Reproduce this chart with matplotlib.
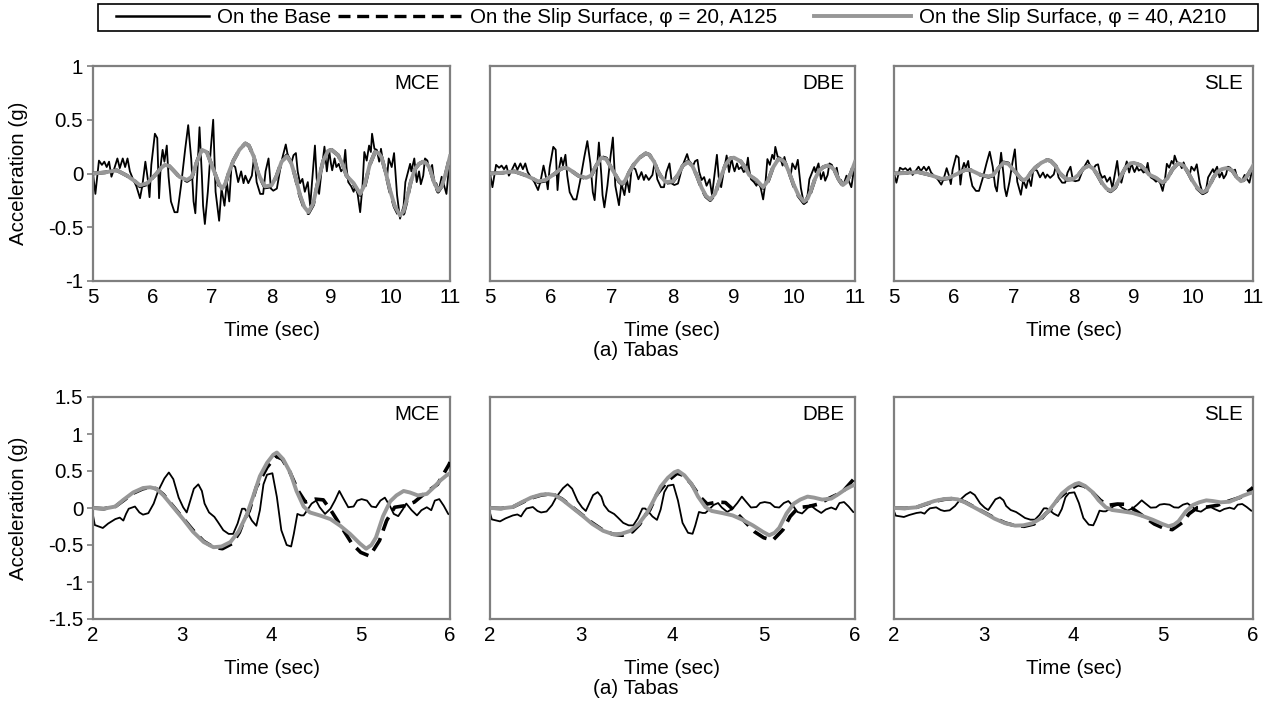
import numpy as np
import matplotlib
matplotlib.use("Agg")
import matplotlib.pyplot as plt
from matplotlib.lines import Line2D
from matplotlib.patches import Rectangle

plt.rcParams["font.family"] = ["Liberation Sans", "DejaVu Sans"]
plt.rcParams["axes.unicode_minus"] = False

# ---------------- data ----------------
levels = ["MCE", "DBE", "SLE"]
level_scale = [1.0, 0.67, 0.45]          # hazard-level scaling of the Tabas record

# window 5-11 s: base acceleration (MCE level)
t_base_top = [5.00, 5.04, 5.10, 5.15, 5.19, 5.23, 5.27, 5.31, 5.36, 5.41, 5.45, 5.50, 5.54, 5.58,
              5.62, 5.67, 5.73, 5.79, 5.83, 5.88, 5.92, 5.95, 5.98, 6.04, 6.08, 6.11, 6.14, 6.17,
              6.20, 6.24, 6.27, 6.31, 6.37, 6.42, 6.48, 6.55, 6.60, 6.65, 6.69, 6.72, 6.79, 6.83,
              6.85, 6.88, 6.93, 6.98, 7.02, 7.06, 7.12, 7.16, 7.21, 7.25, 7.29, 7.33, 7.39, 7.44,
              7.49, 7.53, 7.56, 7.61, 7.67, 7.71, 7.75, 7.81, 7.86, 7.90, 7.95, 7.99, 8.03, 8.09,
              8.14, 8.18, 8.24, 8.28, 8.33, 8.37, 8.41, 8.44, 8.48, 8.52, 8.56, 8.61, 8.65, 8.69,
              8.73, 8.76, 8.80, 8.84, 8.89, 8.93, 8.97, 9.00, 9.02, 9.06, 9.09, 9.13, 9.17, 9.21,
              9.24, 9.26, 9.29, 9.34, 9.38, 9.41, 9.45, 9.49, 9.53, 9.56, 9.60, 9.64, 9.67, 9.69,
              9.73, 9.77, 9.81, 9.84, 9.88, 9.91, 9.94, 9.97, 10.02, 10.06, 10.11, 10.16, 10.22,
              10.25, 10.33, 10.35, 10.40, 10.44, 10.48, 10.51, 10.55, 10.58, 10.62, 10.66, 10.70,
              10.74, 10.77, 10.81, 10.86, 10.90, 10.94, 10.97, 11.00]
acc_base_top = [0.00, -0.19, 0.12, 0.08, 0.11, 0.06, 0.11, -0.03, 0.05, 0.14, 0.05, 0.14, 0.06, 0.14,
                0.02, -0.05, -0.12, -0.23, -0.11, 0.11, -0.05, -0.22, 0.08, 0.37, 0.33, -0.23, 0.09, 0.22,
                0.11, 0.26, -0.03, -0.26, -0.36, -0.36, -0.11, 0.23, 0.45, 0.14, -0.26, -0.37, 0.43, -0.02,
                -0.30, -0.47, -0.17, 0.23, 0.50, -0.17, -0.44, -0.14, -0.30, -0.08, -0.26, 0.09, 0.06, -0.08,
                0.02, -0.09, -0.02, -0.09, -0.02, 0.17, -0.08, -0.19, -0.19, 0.02, 0.14, -0.14, -0.16, -0.14,
                0.02, 0.14, 0.27, 0.15, 0.09, 0.17, 0.19, 0.02, -0.09, -0.05, -0.17, -0.08, -0.30, -0.02,
                0.26, -0.05, -0.19, 0.02, 0.25, 0.02, 0.21, 0.09, 0.03, 0.14, 0.06, 0.09, 0.02, 0.05,
                0.22, 0.06, -0.08, -0.12, -0.17, -0.11, -0.20, -0.36, -0.11, 0.20, 0.12, 0.26, 0.20, 0.37,
                0.23, 0.22, 0.11, 0.23, 0.09, 0.00, -0.05, 0.14, 0.06, 0.19, -0.20, -0.42, -0.30,
                -0.08, 0.09, 0.02, 0.14, -0.08, 0.02, -0.10, -0.02, 0.14, 0.12, 0.02, 0.08,
                -0.11, -0.09, -0.16, -0.03, -0.11, -0.19, -0.02, 0.10]

# window 5-11 s: slip surface responses (MCE level)
t_slip_top = [5.00, 5.20, 5.40, 5.57, 5.70, 5.79, 5.91, 6.00, 6.07, 6.14, 6.21, 6.28, 6.35, 6.45,
              6.58, 6.66, 6.74, 6.83, 6.91, 6.98, 7.05, 7.12, 7.17, 7.22, 7.29, 7.36, 7.46, 7.56,
              7.62, 7.70, 7.76, 7.81, 7.89, 8.00, 8.08, 8.17, 8.26, 8.33, 8.40, 8.48, 8.55, 8.62,
              8.70, 8.78, 8.87, 8.95, 9.01, 9.12, 9.20, 9.26, 9.38, 9.49, 9.57, 9.65, 9.74, 9.80,
              9.85, 9.92, 9.99, 10.07, 10.16, 10.22, 10.27, 10.34, 10.41, 10.48, 10.55, 10.61,
              10.66, 10.73, 10.80, 10.86, 10.93, 11.00]
acc_phi20_top = [0.00, 0.01, 0.03, -0.02, -0.07, -0.12, -0.10, -0.04, 0.00, 0.05, 0.08, 0.07, 0.03, -0.03,
                 -0.07, -0.04, 0.10, 0.23, 0.21, 0.10, 0.00, -0.11, -0.15, -0.11, 0.02, 0.12, 0.22, 0.28,
                 0.26, 0.16, 0.03, -0.04, -0.13, -0.12, -0.03, 0.11, 0.17, 0.10, -0.03, -0.21, -0.32, -0.37,
                 -0.29, -0.08, 0.12, 0.21, 0.22, 0.17, 0.08, -0.02, -0.10, -0.20, -0.11, 0.08, 0.20, 0.19,
                 0.15, 0.01, -0.16, -0.31, -0.41, -0.37, -0.26, -0.08, 0.04, 0.09, 0.11, 0.09,
                 0.05, -0.08, -0.17, -0.12, 0.00, 0.16]
acc_phi40_top = [0.00, 0.01, 0.03, -0.02, -0.07, -0.11, -0.09, -0.04, 0.00, 0.05, 0.08, 0.07, 0.03, -0.03,
                 -0.06, -0.03, 0.10, 0.22, 0.20, 0.10, 0.00, -0.10, -0.14, -0.10, 0.02, 0.12, 0.22, 0.28,
                 0.26, 0.16, 0.03, -0.04, -0.12, -0.11, -0.03, 0.11, 0.16, 0.10, -0.03, -0.20, -0.31, -0.36,
                 -0.28, -0.08, 0.12, 0.21, 0.22, 0.17, 0.08, -0.02, -0.09, -0.19, -0.10, 0.08, 0.20, 0.19,
                 0.15, 0.01, -0.15, -0.30, -0.39, -0.35, -0.25, -0.08, 0.04, 0.09, 0.11, 0.09,
                 0.05, -0.08, -0.16, -0.12, 0.00, 0.16]

# window 2-6 s: base acceleration (MCE level)
t_base_bot = [2.00, 2.02, 2.11, 2.17, 2.25, 2.30, 2.34, 2.37, 2.40, 2.47, 2.52, 2.56, 2.62, 2.68,
              2.73, 2.80, 2.85, 2.90, 2.96, 3.01, 3.05, 3.09, 3.13, 3.18, 3.22, 3.25, 3.30, 3.36,
              3.40, 3.46, 3.52, 3.57, 3.62, 3.67, 3.70, 3.74, 3.78, 3.83, 3.87, 3.91, 3.95, 4.01,
              4.06, 4.11, 4.17, 4.22, 4.25, 4.29, 4.33, 4.36, 4.40, 4.45, 4.50, 4.54, 4.60, 4.66,
              4.71, 4.76, 4.80, 4.86, 4.92, 4.96, 5.01, 5.07, 5.12, 5.17, 5.22, 5.27, 5.33, 5.37,
              5.42, 5.47, 5.51, 5.57, 5.63, 5.68, 5.74, 5.79, 5.83, 5.88, 5.93, 5.98, 6.00]
acc_base_bot = [-0.10, -0.23, -0.27, -0.21, -0.15, -0.13, -0.17, -0.08, -0.01, 0.02, -0.06, -0.09, -0.07, 0.06,
                0.23, 0.40, 0.48, 0.39, 0.14, 0.01, -0.06, 0.10, 0.26, 0.32, 0.23, 0.06, -0.06, -0.12,
                -0.19, -0.30, -0.35, -0.35, -0.21, -0.01, -0.01, -0.08, -0.17, -0.24, -0.03, 0.32, 0.45, 0.47,
                0.15, -0.30, -0.50, -0.52, -0.35, -0.08, -0.10, -0.10, -0.03, 0.06, 0.10, 0.01, -0.08, -0.01,
                0.10, 0.23, 0.14, 0.01, 0.02, 0.10, 0.12, 0.10, 0.02, 0.01, 0.10, 0.14, 0.02, -0.08,
                -0.11, -0.02, 0.06, -0.03, -0.10, -0.03, 0.01, -0.03, 0.10, 0.12, 0.03, -0.08, -0.09]

# window 2-6 s: slip surface, phi = 20, A125 (MCE level)
t_phi20_bot = [2.00, 2.12, 2.25, 2.34, 2.45, 2.56, 2.64, 2.71, 2.79, 2.90, 3.01, 3.12, 3.24, 3.35,
               3.45, 3.56, 3.64, 3.69, 3.75, 3.83, 3.95, 4.05, 4.12, 4.20, 4.30, 4.38, 4.49, 4.58,
               4.67, 4.78, 4.90, 5.00, 5.10, 5.21, 5.29, 5.38, 5.49, 5.60, 5.71, 5.86, 5.99, 6.00]
acc_phi20_bot = [0.00, -0.01, 0.02, 0.10, 0.20, 0.26, 0.28, 0.26, 0.18, 0.02, -0.14, -0.30, -0.45, -0.53,
                 -0.55, -0.48, -0.33, -0.17, -0.04, 0.28, 0.55, 0.70, 0.66, 0.50, 0.23, 0.08, 0.12, 0.11,
                 -0.04, -0.25, -0.48, -0.60, -0.65, -0.44, -0.17, 0.01, 0.03, 0.08, 0.19, 0.32, 0.59, 0.62]

# window 2-6 s: slip surface, phi = 40, A210 (MCE level)
t_phi40_bot = [2.00, 2.12, 2.25, 2.34, 2.45, 2.56, 2.64, 2.71, 2.79, 2.90, 3.01, 3.12, 3.24, 3.35,
               3.44, 3.54, 3.63, 3.72, 3.79, 3.87, 3.95, 4.02, 4.06, 4.13, 4.21, 4.28, 4.36, 4.43,
               4.54, 4.66, 4.77, 4.88, 4.99, 5.06, 5.12, 5.17, 5.25, 5.33, 5.40, 5.48, 5.55, 5.64,
               5.74, 5.81, 5.89, 5.96, 6.00]
acc_phi40_bot = [0.00, -0.01, 0.02, 0.11, 0.21, 0.27, 0.28, 0.26, 0.17, 0.01, -0.15, -0.32, -0.46, -0.53,
                 -0.52, -0.46, -0.32, -0.10, 0.14, 0.43, 0.61, 0.72, 0.75, 0.66, 0.48, 0.23, 0.02, -0.06,
                 -0.10, -0.15, -0.24, -0.35, -0.48, -0.55, -0.50, -0.40, -0.11, 0.09, 0.17, 0.23, 0.21, 0.17,
                 0.19, 0.27, 0.37, 0.44, 0.47]

rows = [
    dict(tb=t_base_top, ab=acc_base_top, t20=t_slip_top, a20=acc_phi20_top,
         t40=t_slip_top, a40=acc_phi40_top, xlim=(5, 11), xticks=[5, 6, 7, 8, 9, 10, 11],
         ylim=(-1, 1), yticks=[-1, -0.5, 0, 0.5, 1], ylabels=["-1", "-0.5", "0", "0.5", "1"]),
    dict(tb=t_base_bot, ab=acc_base_bot, t20=t_phi20_bot, a20=acc_phi20_bot,
         t40=t_phi40_bot, a40=acc_phi40_bot, xlim=(2, 6), xticks=[2, 3, 4, 5, 6],
         ylim=(-1.5, 1.5), yticks=[-1.5, -1, -0.5, 0, 0.5, 1, 1.5],
         ylabels=["-1.5", "-1", "-0.5", "0", "0.5", "1", "1.5"]),
]
caption = "(a) Tabas"

# ---------------- styles ----------------
FS = 14.8
W, H = 1271, 721
base_kw = dict(color="black", lw=1.3, zorder=2)
phi20_kw = dict(color="black", lw=2.6, ls=(0, (4, 2.2)), zorder=3)
phi40_kw = dict(color="#979797", lw=2.8, zorder=4)
spine_color = "#7f7f7f"

fig = plt.figure(figsize=(W / 100, H / 100), dpi=100)

col_left = [93, 490, 894]
col_width = [357, 365, 359]
row_box = [(66, 281), (397, 619)]
caption_y = [351, 689]

for r, row in enumerate(rows):
    top, bot = row_box[r]
    for c, lev in enumerate(levels):
        ax = fig.add_axes([col_left[c] / W, 1 - bot / H, col_width[c] / W, (bot - top) / H])
        s = level_scale[c]
        ax.plot(row["tb"], np.array(row["ab"]) * s, **base_kw)
        ax.plot(row["t20"], np.array(row["a20"]) * s, **phi20_kw)
        ax.plot(row["t40"], np.array(row["a40"]) * s, **phi40_kw)
        ax.set_xlim(*row["xlim"])
        ax.set_ylim(*row["ylim"])
        ax.set_xticks(row["xticks"])
        ax.set_xticklabels([str(v) for v in row["xticks"]], fontsize=FS)
        ax.set_yticks(row["yticks"])
        for sp in ax.spines.values():
            sp.set_color(spine_color)
            sp.set_linewidth(1.6)
        ax.tick_params(axis="x", length=0, pad=5)
        if c == 0:
            ax.set_yticklabels(row["ylabels"], fontsize=FS)
            ax.tick_params(axis="y", length=4, width=1.2, color=spine_color, direction="out", pad=3)
            ax.set_ylabel("Acceleration (g)", fontsize=FS, labelpad=14)
        else:
            ax.tick_params(axis="y", left=False, labelleft=False)
        ax.set_xlabel("Time (sec)", fontsize=FS, labelpad=10)
        ax.text(0.972, 0.962, lev, transform=ax.transAxes, ha="right", va="top", fontsize=FS)
    fig.text(636 / W, 1 - caption_y[r] / H, caption, ha="center", va="center", fontsize=FS)

# ---------------- legend strip ----------------
fig.add_artist(Rectangle((98 / W, 1 - 31 / H), 1160 / W, 27 / H, transform=fig.transFigure,
                         fill=False, edgecolor="black", lw=1.2))
entries = [
    (Line2D([], [], color="black", lw=1.8), "On the Base", 116, 4.5),
    (Line2D([], [], color="black", lw=2.4, ls=(0, (3.6, 2.0))),
     "On the Slip Surface, φ = 20, A125", 338, 6.0),
    (Line2D([], [], color="#979797", lw=2.8), "On the Slip Surface, φ = 40, A210", 814, 4.7),
]
for handle, label, x0, hl in entries:
    fig.legend([handle], [label], loc="center left", bbox_to_anchor=(x0 / W, 1 - 17.5 / H),
               frameon=False, fontsize=FS, handlelength=hl, handletextpad=0.4,
               borderpad=0, borderaxespad=0)

fig.savefig("out.png", dpi=100)
